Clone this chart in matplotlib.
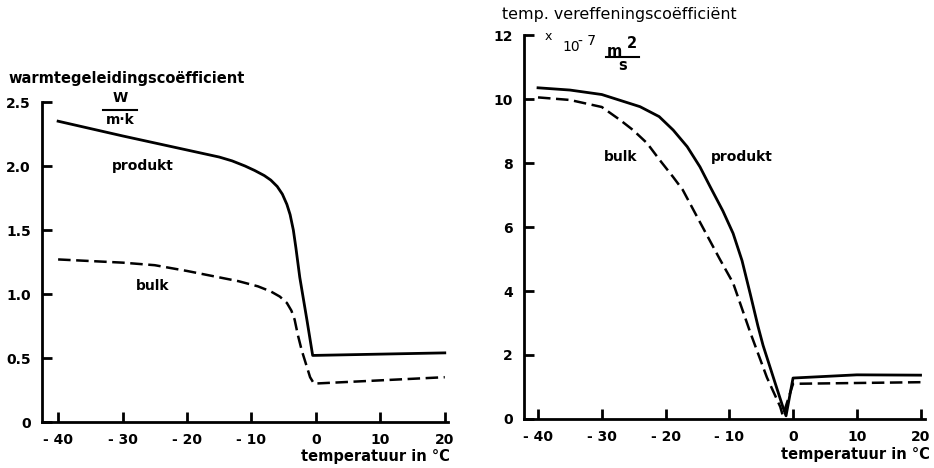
import matplotlib
matplotlib.use("Agg")
import matplotlib.pyplot as plt
from matplotlib.lines import Line2D

plt.rcParams['font.family'] = ['DejaVu Sans']
plt.rcParams['lines.scale_dashes'] = False

# ---------------- data ----------------
# left: thermal conductivity (W / m.K)
temp_l_prod = [-40, -30, -20, -15, -13, -11, -9.5, -8, -7, -6, -5.2, -4.5, -4.0, -3.5, -3.1, -2.5, -2.0, -1.4, -0.5, 20]
cond_prod = [2.35, 2.235, 2.125, 2.07, 2.04, 2.0, 1.965, 1.925, 1.89, 1.84, 1.78, 1.70, 1.62, 1.50, 1.36, 1.13, 0.98, 0.80, 0.52, 0.54]
temp_l_bulk = [-40, -30, -25, -20, -15, -12, -9, -7, -5.6, -4.5, -3.8, -3.3, -2.8, -2.2, -0.9, -0.3, 20]
cond_bulk = [1.27, 1.245, 1.225, 1.18, 1.13, 1.10, 1.06, 1.02, 0.98, 0.93, 0.87, 0.80, 0.68, 0.56, 0.35, 0.30, 0.35]

# right: thermal diffusivity (x 1e-7 m^2/s)
temp_r_prod = [-40, -35, -30, -27, -24, -21, -18.8, -16.6, -14.6, -13, -11, -9.4, -8, -6.7, -5.5, -4.7, -2.8, -1.6, -1.1, 0, 10, 20]
diff_prod = [10.35, 10.28, 10.14, 9.95, 9.76, 9.45, 9.03, 8.51, 7.88, 7.26, 6.5, 5.8, 4.95, 3.9, 2.9, 2.3, 1.12, 0.38, 0.1, 1.28, 1.38, 1.37]
temp_r_bulk = [-40, -35, -30, -27.1, -25.1, -22.9, -20.9, -18.8, -17.3, -15, -11.5, -9.4, -6.7, -4.1, -2.0, -1.6, 0, 20]
diff_bulk = [10.05, 9.97, 9.75, 9.34, 9.03, 8.62, 8.09, 7.56, 7.16, 6.3, 5.0, 4.25, 2.7, 1.3, 0.38, 0.1, 1.1, 1.15]

xticks = [-40, -30, -20, -10, 0, 10, 20]
xticklabels = ['- 40', '- 30', '- 20', '- 10', '0', '10', '20']
yticks_l = [0, 0.5, 1.0, 1.5, 2.0, 2.5]
yticklabels_l = ['0', '0.5', '1.0', '1.5', '2.0', '2.5']
yticks_r = [0, 2, 4, 6, 8, 10, 12]
yticklabels_r = ['0', '2', '4', '6', '8', '10', '12']

W, H = 934, 468
fig = plt.figure(figsize=(W / 100, H / 100), dpi=100)


def fx(x):
    return x / W


def fy(y):
    return 1 - y / H


def style_axes(ax):
    for s in ['top', 'right']:
        ax.spines[s].set_visible(False)
    for s in ['left', 'bottom']:
        ax.spines[s].set_linewidth(2)
    ax.tick_params(direction='in', length=7, width=2, labelsize=10)
    ax.tick_params(axis='y', pad=8)
    ax.tick_params(axis='x', pad=8)
    for lab in ax.get_xticklabels() + ax.get_yticklabels():
        lab.set_fontweight('bold')


# ---------- left chart ----------
axL = fig.add_axes([fx(42), fy(422), (448 - 42) / W, (422 - 102) / H])
axL.plot(temp_l_prod, cond_prod, color='black', lw=2.0, solid_joinstyle='round')
axL.plot(temp_l_bulk, cond_bulk, color='black', lw=1.8, dashes=(9, 4))
axL.set_xlim(-42.5, 20.5)
axL.set_ylim(0, 2.5)
axL.set_xticks(xticks)
axL.set_xticklabels(xticklabels)
axL.set_yticks(yticks_l)
axL.set_yticklabels(yticklabels_l)
style_axes(axL)
axL.text(-26.9, 2.0, 'produkt', fontsize=10, fontweight='bold', ha='center', va='center')
axL.text(-25.3, 1.06, 'bulk', fontsize=10, fontweight='bold', ha='center', va='center')

fig.text(fx(8), fy(78), 'warmtegeleidingscoëfficient', fontsize=10.5, fontweight='bold',
         ha='left', va='center')
fig.text(fx(450), fy(457), 'temperatuur in °C', fontsize=10.5, fontweight='bold',
         ha='right', va='center')
fig.text(fx(120), fy(98), 'W', fontsize=10, fontweight='bold', ha='center', va='center')
fig.add_artist(Line2D([fx(103), fx(137)], [fy(110), fy(110)], color='black', lw=1.5,
                      transform=fig.transFigure))
fig.text(fx(120), fy(120), 'm·k', fontsize=10, fontweight='bold', ha='center', va='center')

# ---------- right chart ----------
axR = fig.add_axes([fx(524), fy(419), (925 - 524) / W, (419 - 35) / H])
axR.plot(temp_r_prod, diff_prod, color='black', lw=2.0, solid_joinstyle='round')
axR.plot(temp_r_bulk, diff_bulk, color='black', lw=1.8, dashes=(9, 4))
axR.set_xlim(-42.2, 20.7)
axR.set_ylim(0, 12)
axR.set_xticks(xticks)
axR.set_xticklabels(xticklabels)
axR.set_yticks(yticks_r)
axR.set_yticklabels(yticklabels_r)
style_axes(axR)
axR.text(-27.1, 8.2, 'bulk', fontsize=10, fontweight='bold', ha='center', va='center')
axR.text(-8.0, 8.2, 'produkt', fontsize=10, fontweight='bold', ha='center', va='center')

fig.text(fx(502), fy(15), 'temp. vereffeningscoëfficiënt', fontsize=11.4,
         ha='left', va='center')
fig.text(fx(930), fy(455), 'temperatuur in °C', fontsize=10.5, fontweight='bold',
         ha='right', va='center')
fig.text(fx(548), fy(37), 'x', fontsize=9, ha='center', va='center')
fig.text(fx(562), fy(47), '10', fontsize=10, ha='left', va='center')
fig.text(fx(578), fy(41), '- 7', fontsize=10, ha='left', va='center')
fig.text(fx(614), fy(51), 'm', fontsize=10.5, fontweight='bold', ha='center', va='center')
fig.text(fx(632), fy(43), '2', fontsize=10.5, fontweight='bold', ha='center', va='center')
fig.add_artist(Line2D([fx(606), fx(639)], [fy(57), fy(57)], color='black', lw=1.5,
                      transform=fig.transFigure))
fig.text(fx(623), fy(65), 's', fontsize=10.5, fontweight='bold', ha='center', va='center')

fig.savefig('out.png', dpi=100)
